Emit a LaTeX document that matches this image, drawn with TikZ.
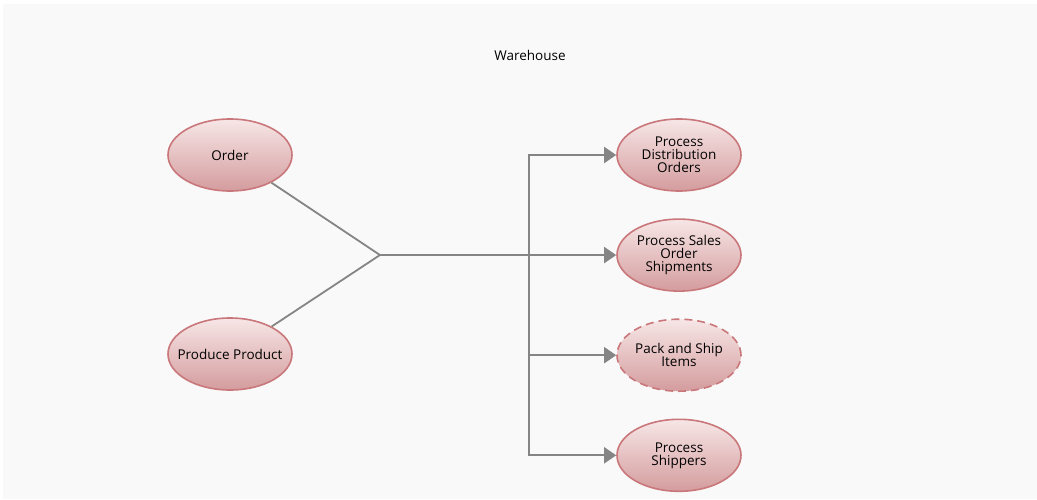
\documentclass[tikz,border=0pt]{standalone}
\usepackage{fontspec}
\setmainfont{Open Sans}
\usetikzlibrary{shapes.geometric, arrows.meta, positioning}
\definecolor{rosedraw}{HTML}{C9777A}
\definecolor{rosetop}{HTML}{F7E6E6}
\definecolor{rosebottom}{HTML}{D49C9E}
\definecolor{linkgray}{HTML}{858585}
\definecolor{canvasgray}{HTML}{F9F9F9}

\begin{document}
\begin{tikzpicture}[x=1pt, y=-1pt, node distance=26.5pt, font=\fontsize{13.5pt}{13pt}\selectfont,
	usecase/.style={ellipse, draw=rosedraw, line width=1.6pt, top color=rosetop, bottom color=rosebottom, minimum width=124pt, minimum height=72pt, inner xsep=-30pt, inner ysep=0pt, align=center},
	link/.style={draw=linkgray, line width=1.8pt},
	flow/.style={link, -{Triangle[length=12pt, width=16pt]}}]
	\useasboundingbox (0,0) rectangle (1037,499);
	\fill[canvasgray] (3,4) rectangle (1037,499);
	\node (title) at (530,55) {Warehouse};
	\node[usecase] (order) at (230,155) {Order};
	\node[usecase] (produce) at (230,354) {Produce Product};
	\node[usecase] (distrib) at (679,155) {Process\\Distribution\\Orders};
	\node[usecase, below=of distrib] (sales) {Process Sales\\Order\\Shipments};
	\node[usecase, dash pattern=on 8pt off 5pt, below=of sales] (pack) {Pack and Ship\\Items};
	\node[usecase, below=of pack] (shippers) {Process\\Shippers};
	\coordinate (join) at (380,255);
	\coordinate (split) at (529,255);
	\draw[link] (order) -- (join);
	\draw[link] (produce) -- (join);
	\draw[flow] (join) -- (sales);
	\foreach \n in {distrib, pack, shippers}
	\draw[flow] (split) |- (\n);
\end{tikzpicture}
\end{document}
